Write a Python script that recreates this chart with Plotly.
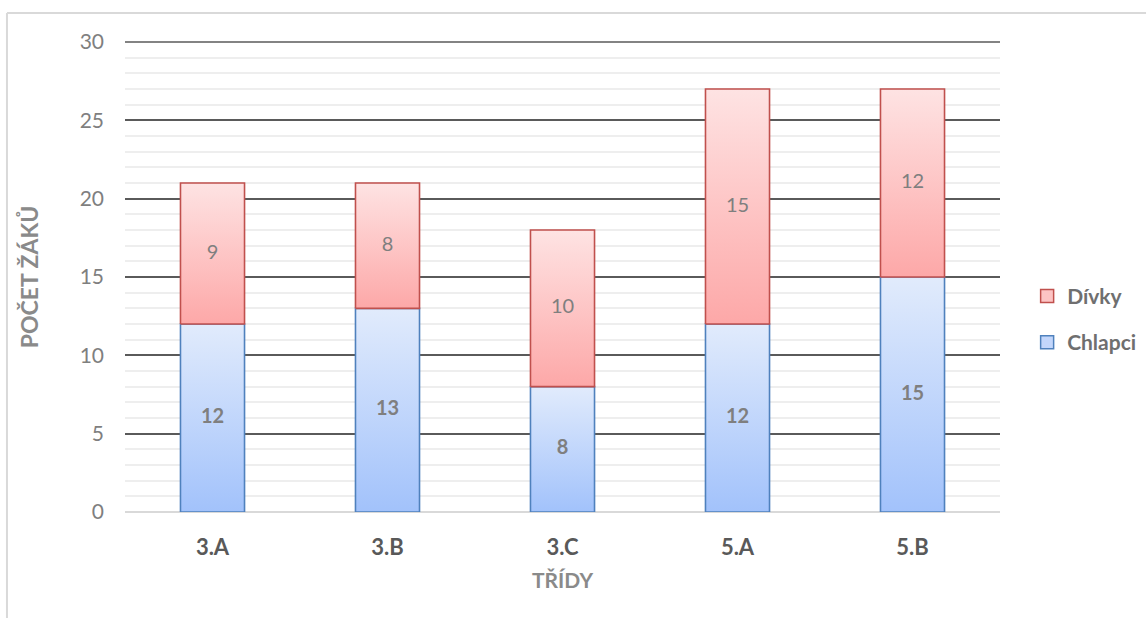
import plotly.graph_objects as go

# Počty žáků podle tříd
tridy = ["3.A", "3.B", "3.C", "5.A", "5.B"]
chlapci = [12, 13, 8, 12, 15]
divky = [9, 8, 10, 15, 12]
y_max = 30

FONT = "Lato"
BAR_HALF = 0.183

BLUE_TOP, BLUE_BOTTOM, BLUE_LINE = "#e1ebfc", "#a2c2fb", "#4f81bd"
RED_TOP, RED_BOTTOM, RED_LINE = "#fee3e3", "#fda8a8", "#c0504d"

fig = go.Figure()


def add_segment(xi, base, value, top_c, bottom_c, line_c):
    x0, x1 = xi - BAR_HALF, xi + BAR_HALF
    y0, y1 = base, base + value
    fig.add_trace(go.Scatter(
        x=[x0, x1, x1, x0, x0],
        y=[y0, y0, y1, y1, y0],
        mode="lines",
        fill="toself",
        fillgradient=dict(type="vertical",
                          colorscale=[[0, bottom_c], [1, top_c]]),
        line=dict(color=line_c, width=1.6),
        hoverinfo="skip",
        showlegend=False,
    ))


for i, (c, d) in enumerate(zip(chlapci, divky)):
    add_segment(i, 0, c, BLUE_TOP, BLUE_BOTTOM, BLUE_LINE)
    add_segment(i, c, d, RED_TOP, RED_BOTTOM, RED_LINE)

xs = list(range(len(tridy)))

# Popisky hodnot
fig.add_trace(go.Scatter(
    x=xs, y=[c / 2 for c in chlapci], mode="text",
    text=[f"<b>{c}</b>" for c in chlapci],
    textfont=dict(family=FONT, size=20, color="#7f7f7f"),
    hoverinfo="skip", showlegend=False,
))
fig.add_trace(go.Scatter(
    x=xs, y=[c + d / 2 for c, d in zip(chlapci, divky)], mode="text",
    text=[str(d) for d in divky],
    textfont=dict(family=FONT, size=20, color="#7f7f7f"),
    hoverinfo="skip", showlegend=False,
))

# Legenda
fig.add_trace(go.Scatter(
    x=[None], y=[None], mode="markers", name="<b>Dívky</b>",
    legendgroup="d",
    marker=dict(symbol="square", size=13, color="#fdc4c4",
                line=dict(color=RED_LINE, width=1.5)),
))
fig.add_trace(go.Scatter(
    x=[None], y=[None], mode="markers", name="<b>Chlapci</b>",
    legendgroup="c",
    marker=dict(symbol="square", size=13, color="#c3d6fb",
                line=dict(color=BLUE_LINE, width=1.5)),
))

fig.update_layout(
    width=1147, height=619,
    margin=dict(l=125, r=147, t=42, b=107, autoexpand=False),
    paper_bgcolor="white", plot_bgcolor="white",
    font=dict(family=FONT, color="#7f7f7f"),
    showlegend=True,
    legend=dict(
        x=1.031, y=0.41, xanchor="left", yanchor="middle",
        traceorder="grouped", tracegroupgap=16,
        font=dict(family=FONT, size=21, color="#6f6f6f"),
        itemwidth=30,
    ),
    xaxis=dict(
        range=[-0.5, len(tridy) - 0.5],
        tickvals=xs,
        ticktext=[f"<b>{t}</b>" for t in tridy],
        tickfont=dict(family=FONT, size=22, color="#595959"),
        showgrid=False, zeroline=False, showline=False,
        ticks="", ticklabelstandoff=20,
        title=dict(text="<b>TŘÍDY</b>", standoff=14,
                   font=dict(family=FONT, size=21, color="#8a8a8a")),
        fixedrange=True,
    ),
    yaxis=dict(
        range=[0, y_max],
        tickvals=[0, 5, 10, 15, 20, 25, 30],
        tickfont=dict(family=FONT, size=21, color="#7f7f7f"),
        showgrid=True, gridcolor="#5a5a5a", gridwidth=1.5,
        zeroline=True, zerolinecolor="#d9d9d9", zerolinewidth=2,
        showline=False, ticks="", ticklabelstandoff=20,
        minor=dict(dtick=1, showgrid=True, gridcolor="#eeeeee", gridwidth=1.5),
        title=dict(text="<b>POČET ŽÁKŮ</b>", standoff=34,
                   font=dict(family=FONT, size=23, color="#8a8a8a")),
        fixedrange=True,
    ),
    shapes=[
        # horní hlavní mřížka (horní okraj osy y = y_max)
        dict(type="line", xref="paper", yref="paper", layer="below",
             x0=0, x1=1, y0=1, y1=1,
             line=dict(color="#5a5a5a", width=1.5)),
        # rámeček grafu
        dict(type="line", xref="paper", yref="paper",
             x0=-0.1349, x1=1.1669, y0=1.0617, y1=1.0617,
             line=dict(color="#d9d9d9", width=2)),
        dict(type="line", xref="paper", yref="paper",
             x0=-0.1349, x1=-0.1349, y0=1.0617, y1=-0.2255,
             line=dict(color="#d9d9d9", width=2)),
    ],
)

fig.write_html("out.html")
